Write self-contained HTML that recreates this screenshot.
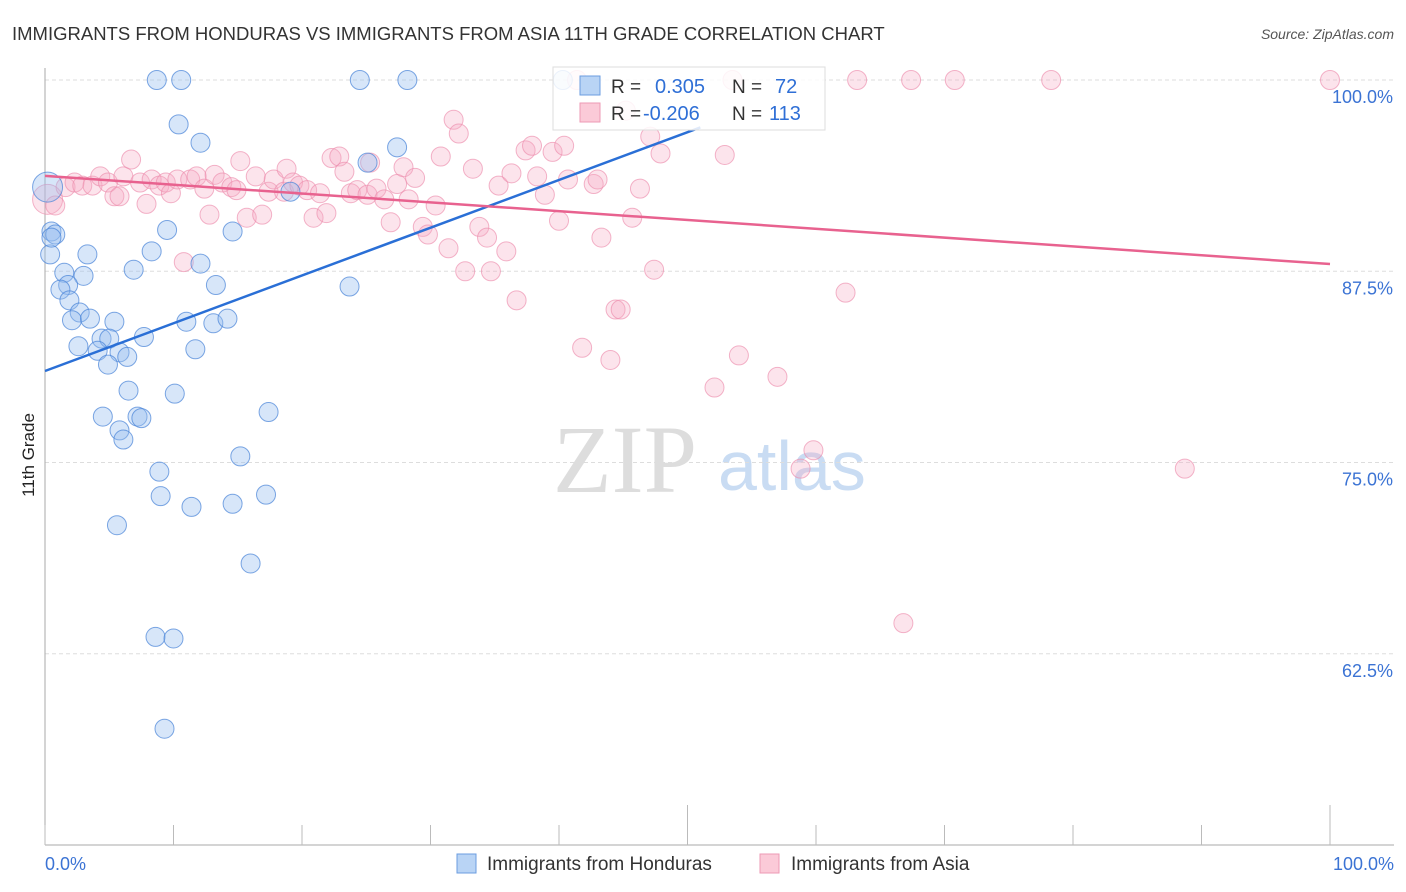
<!DOCTYPE html>
<html><head><meta charset="utf-8"><style>
body{margin:0;background:#fff;font-family:"Liberation Sans",sans-serif}
#c{position:absolute;left:0;top:0}
</style></head><body>
<svg id="c" width="1406" height="892">
<text x="12" y="40" font-size="18.5" fill="#333">IMMIGRANTS FROM HONDURAS VS IMMIGRANTS FROM ASIA 11TH GRADE CORRELATION CHART</text>
<text x="1394" y="39" font-size="14" fill="#555" font-style="italic" text-anchor="end">Source: ZipAtlas.com</text>
<text x="34" y="455" font-size="17" fill="#222" transform="rotate(-90 34 455)" text-anchor="middle">11th Grade</text>
<g><text x="553" y="492" font-size="96" font-family="Liberation Serif,serif" fill="#ddd">ZIP</text><text x="718" y="490" font-size="70" fill="#c9dcf3">atlas</text></g>
<g id="grid"></g><g id="axes"></g><g id="pts"></g><g id="lines"></g>
<g>
<rect x="553" y="67" width="272" height="63" fill="#fff" fill-opacity="0.85" stroke="#ddd"/>
<rect x="580" y="76" width="20" height="19" fill="#b9d4f5" stroke="#6b9de0"/>
<rect x="580" y="103" width="20" height="19" fill="#fbcad8" stroke="#ee9ab5"/>
<text x="611" y="93" font-size="19" fill="#333">R = </text><text x="655" y="93" font-size="20" fill="#2f6fd6">0.305</text>
<text x="732" y="93" font-size="19" fill="#333">N = </text><text x="775" y="93" font-size="20" fill="#2f6fd6">72</text>
<text x="611" y="120" font-size="19" fill="#333">R = </text><text x="643" y="120" font-size="20" fill="#2f6fd6">-0.206</text>
<text x="732" y="120" font-size="19" fill="#333">N = </text><text x="769" y="120" font-size="20" fill="#2f6fd6">113</text>
</g>
<g>
<rect x="457" y="854" width="19" height="19" fill="#b9d4f5" stroke="#6b9de0"/>
<text x="487" y="870" font-size="19" fill="#333">Immigrants from Honduras</text>
<rect x="760" y="854" width="19" height="19" fill="#fbcad8" stroke="#ee9ab5"/>
<text x="791" y="870" font-size="19" fill="#333">Immigrants from Asia</text>
</g>
</svg>
<script>
const yTicks=[100,87.5,75,62.5];
const yTickLabels=["100.0%","87.5%","75.0%","62.5%"];
const xTickLabels=["0.0%","100.0%"];
const blueX=[8.7,10.6,24.5,28.2,40.3,10.4,12.1,27.4,25.1,19.1,0.2,0.5,0.8,0.4,3.3,9.5,14.6,8.3,6.9,12.1,1.5,3.0,1.8,1.2,13.3,23.7,1.9,2.7,2.1,3.5,5.4,11.0,13.1,14.2,4.4,5.0,7.7,2.6,4.1,5.8,11.7,4.9,6.4,6.5,10.1,4.5,7.2,7.5,17.4,5.8,6.1,15.2,8.9,9.0,11.4,14.6,17.2,5.6,16.0,8.6,10.0,9.3,0.5];
const blueY=[100,100,100,100,100,97.1,95.9,95.6,94.6,92.7,93.0,90.1,89.9,88.6,88.6,90.2,90.1,88.8,87.6,88.0,87.4,87.2,86.6,86.3,86.6,86.5,85.6,84.8,84.3,84.4,84.2,84.2,84.1,84.4,83.1,83.1,83.2,82.6,82.3,82.2,82.4,81.4,81.9,79.7,79.5,78.0,78.0,77.9,78.3,77.1,76.5,75.4,74.4,72.8,72.1,72.3,72.9,70.9,68.4,63.6,63.5,57.6,89.7];
const pinkX=[0.2,0.8,1.6,2.3,2.9,3.7,4.3,4.9,5.4,5.8,6.1,6.7,7.4,7.9,8.3,8.9,9.4,9.8,10.3,10.8,11.3,11.8,12.4,12.8,13.2,13.8,14.5,14.9,15.2,15.7,16.4,16.9,17.4,17.8,18.6,18.8,19.3,19.8,20.4,20.9,21.4,21.9,22.3,22.9,23.3,23.8,24.3,25.1,25.3,25.8,26.4,26.9,27.4,27.9,28.3,28.8,29.4,29.8,30.4,30.8,31.4,31.8,32.2,32.7,33.3,33.8,34.4,34.7,35.3,35.9,36.3,36.7,37.4,37.9,38.3,38.9,39.5,40.0,40.4,40.7,41.4,41.8,42.7,43.0,43.3,44.0,44.4,44.8,45.2,45.7,46.3,47.1,47.4,47.9,52.1,52.9,53.5,54.0,57.0,58.8,59.8,62.3,63.2,66.8,67.4,70.8,78.3,88.7,100];
const pinkY=[92.2,91.8,93.0,93.3,93.1,93.1,93.7,93.3,92.4,92.4,93.7,94.8,93.3,91.9,93.5,93.1,93.3,92.6,93.5,88.1,93.5,93.7,92.9,91.2,93.8,93.3,93.0,92.8,94.7,91.0,93.7,91.2,92.7,93.5,92.7,94.2,93.3,93.1,92.8,91.0,92.6,91.3,94.9,95.0,94.0,92.6,92.8,92.5,94.6,92.9,92.2,90.7,93.2,94.3,92.2,93.6,90.4,89.9,91.8,95.0,89.0,97.4,96.5,87.5,94.2,90.4,89.7,87.5,93.1,88.8,93.9,85.6,95.4,95.7,93.7,92.5,95.3,90.8,95.7,93.5,100,82.5,93.2,93.5,89.7,81.7,85.0,85.0,98.0,91.0,92.9,96.3,87.6,95.2,79.9,95.1,100,82.0,80.6,74.6,75.8,86.1,100,64.5,100,100,100,74.6,100];
const blueTrend=[[0,80.98],[51,96.9]];
const pinkTrend=[[0,93.73],[100,87.97]];
const NS="http://www.w3.org/2000/svg";
const X=v=>45+v*12.85, Y=v=>80+(100-v)*15.3;
function mk(tag,attrs,parent){const e=document.createElementNS(NS,tag);for(const k in attrs)e.setAttribute(k,attrs[k]);document.getElementById(parent).appendChild(e);return e;}
yTicks.forEach((t,i)=>{
 const g=mk('line',{x1:45,x2:1394,y1:Y(t),y2:Y(t),stroke:'#ddd','stroke-dasharray':'4 3'},'grid');
 
 
 const l=mk('text',{x:1393,y:Y(t)+23,'font-size':18,fill:'#3b73d4','text-anchor':'end'},'grid');
 l.textContent=yTickLabels[i];
 
 
});
const ax=mk('line',{x1:45,x2:45,y1:68,y2:845,stroke:'#aaa'},'axes');


const bx=mk('line',{x1:45,x2:1394,y1:845,y2:845,stroke:'#aaa'},'axes');


for(let i=0;i<=10;i++){const tall=(i==5||i==10);const t=mk('line',{x1:X(i*10),x2:X(i*10),y1:tall?805:825,y2:845,stroke:'#bbb'},'axes');
 
 }
[[0,'start',45],[100,'end',1394]].forEach((d,i)=>{const t=mk('text',{x:d[2],y:870,'font-size':18,fill:'#3b73d4','text-anchor':d[1]},'axes');t.textContent=xTickLabels[i];
 
 });
pinkX.forEach((x,i)=>{const c=mk('circle',{cx:X(x),cy:Y(pinkY[i]),r:i==0?15:9.5,fill:'rgba(246,172,196,0.32)',stroke:'rgba(236,140,172,0.65)'},'pts');
 
 });
blueX.forEach((x,i)=>{const c=mk('circle',{cx:X(x),cy:Y(blueY[i]),r:i==10?15:9.5,fill:'rgba(150,190,240,0.38)',stroke:'rgba(70,130,215,0.7)'},'pts');
 
 });
const bl=mk('line',{x1:X(blueTrend[0][0]),y1:Y(blueTrend[0][1]),x2:X(blueTrend[1][0]),y2:Y(blueTrend[1][1]),stroke:'#2a6fd6','stroke-width':2.5},'lines');


const pl=mk('line',{x1:X(pinkTrend[0][0]),y1:Y(pinkTrend[0][1]),x2:X(pinkTrend[1][0]),y2:Y(pinkTrend[1][1]),stroke:'#e8628f','stroke-width':2.5},'lines');


</script>
</body></html>
